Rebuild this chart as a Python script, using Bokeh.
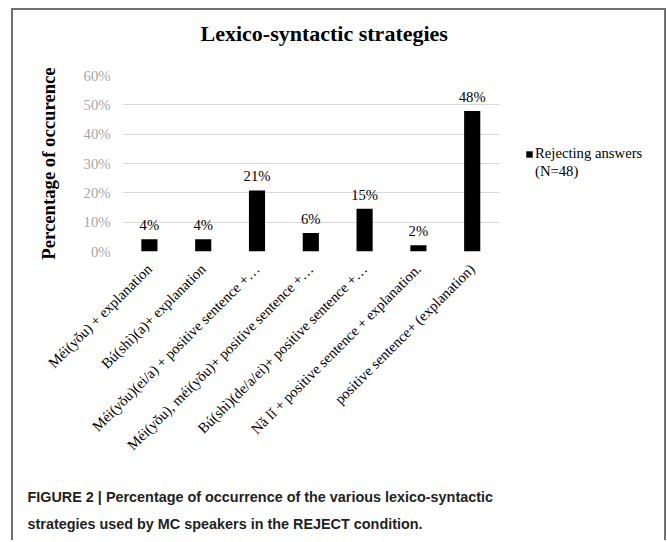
import math
from bokeh.plotting import figure
from bokeh.models import (ColumnDataSource, LabelSet, Legend, LegendItem, Title,
                          FixedTicker, PrintfTickFormatter, Range1d)
from bokeh.core.properties import value
from bokeh.embed import file_html
from bokeh.resources import INLINE

# ---- data ----
categories = [
    "Méi(yǒu) + explanation",
    "Bú(shì)(a)+ explanation",
    "Méi(yǒu)(ei/a) + positive sentence +…",
    "Méi(yǒu), méi(yǒu)+ positive sentence +…",
    "Bú(shì)(de/a/ei)+ positive sentence +…",
    "Nǎ lǐ + positive sentence + explanation.",
    "positive sentence+ (explanation)",
]
values = [4.2, 4.2, 20.8, 6.3, 14.6, 2.1, 47.9]
value_labels = ["4%", "4%", "21%", "6%", "15%", "2%", "48%"]
y_ticks = [0, 10, 20, 30, 40, 50, 60]
series_name = "Rejecting answers"
series_note = "(N=48)"
title_text = "Lexico-syntactic strategies"
y_title = "Percentage of occurence"
caption_lines = [
    "FIGURE 2 | Percentage of occurrence of the various lexico-syntactic",
    "strategies used by MC speakers in the REJECT condition.",
]

SERIF = "Liberation Serif"
SANS = "Liberation Sans"
FRAME = "2px solid #707070"

n = len(categories)
x_pos = [i + 0.5 for i in range(n)]          # category centres
src = ColumnDataSource(dict(x=x_pos, val=values, lab=value_labels))

# plot area widened to the right so the legend sits inside it; categories use 0..n
p = figure(width=651, height=530, x_range=Range1d(0, n + 3), y_range=Range1d(0, 60),
           output_backend="svg", toolbar_location=None,
           min_border_left=109, min_border_right=8,
           min_border_top=65, min_border_bottom=291)
p.styles = {"margin-left": "11px", "margin-top": "8px",
            "border-left": FRAME, "border-right": FRAME, "border-top": FRAME,
            "box-sizing": "content-box"}
p.outline_line_color = None
p.background_fill_color = "white"
p.border_fill_color = "white"

bars = p.vbar(x="x", top="val", width=0.3, source=src,
              fill_color="black", line_color=None)
dummy = p.vbar(x=[], top=[], width=0.3, fill_color=None, line_color=None)

labels = LabelSet(x="x", y="val", text="lab", source=src,
                  text_align="center", text_baseline="middle", y_offset=14,
                  text_font=value(SERIF), text_font_size="14.7px",
                  text_color="black")
p.add_layout(labels)

# title (an empty second line lifts the text away from the plot area)
p.title.text = title_text + "\n "
p.title.align = "left"
p.title.offset = 78
p.title.standoff = 0
p.title.text_line_height = 1.18
p.title.text_font = SERIF
p.title.text_font_style = "bold"
p.title.text_font_size = "22px"
p.title.text_color = "black"

# y axis
yax = p.yaxis[0]
yax.ticker = FixedTicker(ticks=y_ticks)
yax.formatter = PrintfTickFormatter(format="%d%%")
yax.axis_line_color = None
yax.major_tick_line_color = None
yax.minor_tick_line_color = None
yax.major_tick_out = 0
yax.major_tick_in = 0
yax.minor_tick_out = 0
yax.major_label_text_color = "#a6a6a6"
yax.major_label_text_font = SERIF
yax.major_label_text_font_size = "14.7px"
yax.major_label_standoff = 12
yax.axis_label = y_title
yax.axis_label_text_font = SERIF
yax.axis_label_text_font_style = "bold"
yax.axis_label_text_font_size = "18.7px"
yax.axis_label_text_color = "black"
yax.axis_label_standoff = 22

# x axis
xax = p.xaxis[0]
xax.ticker = FixedTicker(ticks=x_pos)
xax.major_label_overrides = {x: c for x, c in zip(x_pos, categories)}
xax.major_label_orientation = math.pi / 4
xax.axis_line_color = None
xax.major_tick_line_color = None
xax.minor_tick_line_color = None
xax.major_tick_out = 0
xax.major_tick_in = 0
xax.minor_tick_out = 0
xax.major_label_text_font = SERIF
xax.major_label_text_font_size = "14.7px"
xax.major_label_text_color = "black"
xax.major_label_standoff = 15

p.xgrid.grid_line_color = None
p.ygrid.grid_line_color = "#d9d9d9"
p.ygrid.grid_line_width = 1
p.ygrid.cross_bounds = (0, n)

legend = Legend(items=[LegendItem(label=series_name, renderers=[bars]),
                       LegendItem(label=series_note, renderers=[dummy])],
                location=(403, 70.5), orientation="vertical",
                glyph_width=8, glyph_height=8, label_standoff=2,
                label_height=18, spacing=0, padding=0, margin=0,
                border_line_color=None, background_fill_alpha=0,
                label_text_font=SERIF, label_text_font_size="14.7px",
                label_text_color="black")
p.add_layout(legend)

caption = Title(text="\n" + "\n".join(caption_lines), align="left", offset=-95,
                vertical_align="top", standoff=0,
                text_font=SANS, text_font_style="bold", text_font_size="14.4px",
                text_color="#231f20", text_line_height=1.7)
p.add_layout(caption, "below")

open("out.html", "w").write(file_html(p, INLINE))
